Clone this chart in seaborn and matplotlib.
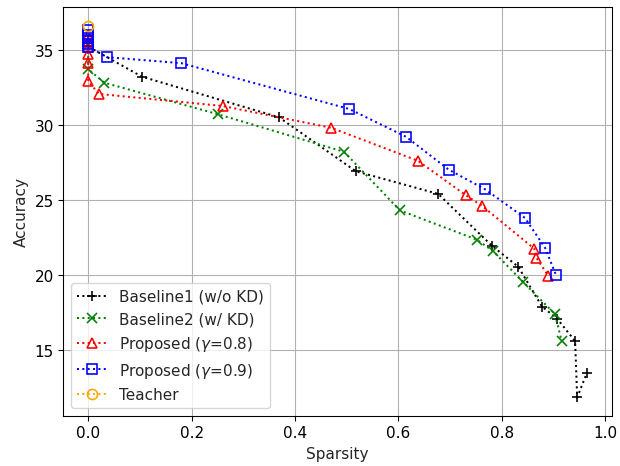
import matplotlib
matplotlib.use("Agg")
import matplotlib.pyplot as plt
import seaborn as sns
import pandas as pd

# Baseline1 (w/o KD)
b1_x = [0, 0, 0.104, 0.369, 0.518, 0.677, 0.781, 0.832, 0.878, 0.907, 0.942, 0.946, 0.965]
b1_y = [35.5, 35.2, 33.2, 30.5, 26.9, 25.4, 21.95, 20.55, 17.9, 17.1, 15.6, 11.85, 13.5]
# Baseline2 (w/ KD)
b2_x = [0, 0, 0.031, 0.251, 0.495, 0.603, 0.752, 0.783, 0.841, 0.903, 0.916]
b2_y = [35.3, 33.7, 32.8, 30.7, 28.2, 24.3, 22.35, 21.6, 19.55, 17.4, 15.6]
# Proposed gamma=0.8
p8_x = [0, 0, 0, 0, 0, 0, 0.021, 0.26, 0.47, 0.638, 0.731, 0.762, 0.863, 0.867, 0.89]
p8_y = [35.9, 35.5, 35.2, 34.7, 34.1, 32.9, 32.05, 31.25, 29.8, 27.6, 25.3, 24.6, 21.75, 21.15, 19.95]
# Proposed gamma=0.9
p9_x = [0, 0, 0, 0, 0, 0, 0.036, 0.18, 0.505, 0.615, 0.698, 0.768, 0.845, 0.884, 0.905]
p9_y = [36.3, 36.0, 35.8, 35.6, 35.4, 35.2, 34.5, 34.1, 31.05, 29.2, 27.0, 25.7, 23.8, 21.8, 20.0]
# Teacher
t_x = [0]
t_y = [36.6]

sns.set_style("ticks")
plt.rcParams['font.family'] = ['DejaVu Sans']
FS = 11.3

fig, ax = plt.subplots(figsize=(6.4, 4.82), dpi=96.875)

series = [
    (b1_x, b1_y, "Baseline1 (w/o KD)", "black", "+", {}),
    (b2_x, b2_y, "Baseline2 (w/ KD)", "green", "x", {}),
    (p8_x, p8_y, r"Proposed ($\gamma$=0.8)", "red", "^", {"markerfacecolor": "none"}),
    (p9_x, p9_y, r"Proposed ($\gamma$=0.9)", "blue", "s", {"markerfacecolor": "none"}),
    (t_x, t_y, "Teacher", "orange", "o", {"markerfacecolor": "none"}),
]
for xs, ys, lab, col, mk, extra in series:
    df = pd.DataFrame({"x": xs, "y": ys})
    sns.lineplot(data=df, x="x", y="y", ax=ax, sort=False, estimator=None,
                 color=col, marker=mk, linestyle=":", linewidth=1.5,
                 markersize=7.5, markeredgecolor=col, markeredgewidth=1.2,
                 label=lab, **extra)

ax.set_xlabel("Sparsity", fontsize=FS)
ax.set_ylabel("Accuracy", fontsize=FS)
ax.set_xticks([0.0, 0.2, 0.4, 0.6, 0.8, 1.0])
ax.set_yticks([15, 20, 25, 30, 35])
ax.margins(0.05)
ax.grid(True, color="#b0b0b0", linewidth=0.8)
for s in ax.spines.values():
    s.set_visible(True)
    s.set_color("black")
    s.set_linewidth(0.8)
ax.tick_params(direction="out", length=3.5, width=0.8, colors="black", labelsize=FS)
ax.legend(loc="lower left", fontsize=FS, frameon=True, framealpha=0.8, edgecolor="#cccccc", fancybox=True)
fig.subplots_adjust(left=0.102, right=0.987, top=0.983, bottom=0.107)
fig.savefig("out.png")
